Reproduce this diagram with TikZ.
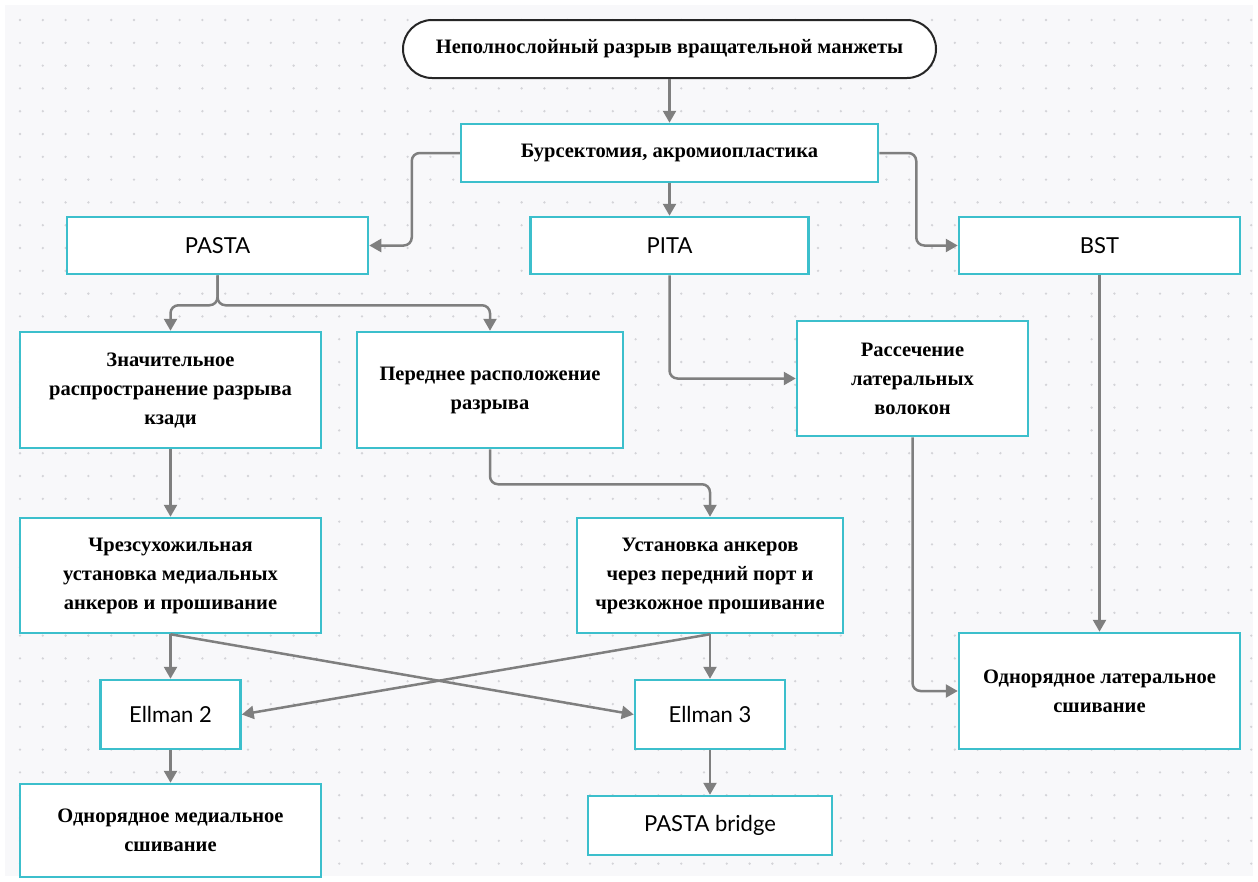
\documentclass[tikz,border=0pt]{standalone}
\usepackage{fontspec}
\setmainfont{Liberation Serif}
\newfontfamily\latof{Lato}
\usetikzlibrary{arrows.meta}
\definecolor{tealb}{HTML}{3CBFCC}
\definecolor{arr}{HTML}{7F7F7F}
\definecolor{bgc}{HTML}{F8F8FA}
\definecolor{dotc}{HTML}{D4D4D8}
\tikzset{
  box/.style={draw=tealb, line width=2.5pt, fill=white, inner sep=0pt, align=center,
    font=\fontsize{20.5}{29}\selectfont\bfseries},
  sbox/.style={box, font=\fontsize{22}{26}\selectfont\latof},
  pill/.style={draw=black!85, line width=2pt, fill=white, inner sep=0pt, rounded corners=29pt,
    font=\fontsize{20.5}{29}\selectfont\bfseries},
  conn/.style={draw=arr, line width=2.5pt, rounded corners=8pt,
    -{Triangle[length=12pt,width=13pt]}},
}
\begin{document}
\begin{tikzpicture}[x=1pt,y=-1pt]
\useasboundingbox (0,0) rectangle (1258,881);
\fill[white] (0,0) rectangle (1258,881);
\fill[bgc] (5,5) rectangle (1253,876);
\foreach \i in {0,...,54} \foreach \j in {0,...,37} \fill[dotc] (20+22.8*\i, 20+22.8*\j) circle (1.3pt);

\node[pill, minimum width=533, minimum height=58] (top) at (669.5,49) {Неполнослойный разрыв вращательной манжеты};
\node[box, minimum width=417, minimum height=58] (burs) at (669.5,153) {Бурсектомия, акромиопластика};
\node[sbox, minimum width=301, minimum height=57] (pasta) at (217.5,245.5) {PASTA};
\node[sbox, minimum width=278, minimum height=57] (pita) at (669.5,245.5) {PITA};
\node[sbox, minimum width=281, minimum height=57] (bst) at (1099.5,245.5) {BST};
\node[box, minimum width=301, minimum height=116] (znach) at (170.5,390) {Значительное\\распространение разрыва\\кзади};
\node[box, minimum width=266, minimum height=116] (pered) at (490,390) {Переднее расположение\\разрыва};
\node[box, minimum width=231, minimum height=115] (rass) at (912.5,378.5) {Рассечение\\латеральных\\волокон};
\node[box, minimum width=301, minimum height=115] (chrez) at (170.5,575.5) {Чрезсухожильная\\установка медиальных\\анкеров и прошивание};
\node[box, minimum width=266, minimum height=115] (ust) at (710,575.5) {Установка анкеров\\через передний порт и\\чрезкожное прошивание};
\node[sbox, minimum width=140, minimum height=69] (e2) at (170.5,714.5) {Ellman 2};
\node[sbox, minimum width=150, minimum height=69] (e3) at (710,714.5) {Ellman 3};
\node[box, minimum width=301, minimum height=93] (odmed) at (170.5,830.5) {Однорядное медиальное\\сшивание};
\node[sbox, minimum width=244, minimum height=59] (bridge) at (710,825.5) {PASTA bridge};
\node[box, minimum width=281, minimum height=116] (odlat) at (1099.5,691) {Однорядное латеральное\\сшивание};

\draw[conn] (top) -- (burs);
\draw[conn] (burs.west) -- ++(-48,0) |- (pasta.east);
\draw[conn] (burs.east) -- ++(37,0) |- (bst.west);
\draw[conn] (burs) -- (pita);
\draw[conn] (pasta.south) -- ++(0,30) -| (znach.north);
\draw[conn] (pasta.south) -- ++(0,30) -| (pered.north);
\draw[conn] (pita.south) |- (rass.west);
\draw[conn] (znach) -- (chrez);
\draw[conn] (pered.south) -- ++(0,35) -| (ust.north);
\draw[conn] (chrez) -- (e2);
\draw[conn] (chrez.south) -- (e3.west);
\draw[conn] (ust.south) -- (e2.east);
\draw[conn] (ust) -- (e3);
\draw[conn] (e2) -- (odmed);
\draw[conn] (e3) -- (bridge);
\draw[conn] (rass.south) |- (odlat.west);
\draw[conn] (bst) -- (odlat);
\end{tikzpicture}
\end{document}
